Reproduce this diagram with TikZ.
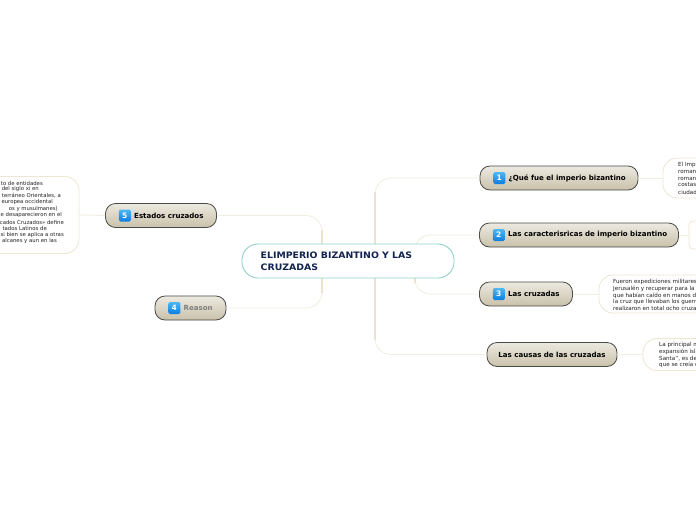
\documentclass[tikz,border=0pt]{standalone}
\usepackage{fontspec}
\setmainfont{DejaVu Sans}
\usetikzlibrary{positioning}
\definecolor{linktan}{HTML}{E9E3D0}
\definecolor{linkpale}{HTML}{F1EDE0}
\definecolor{topicfill}{HTML}{C9C1A9}
\definecolor{topicedge}{HTML}{4A4A48}
\definecolor{rootedge}{HTML}{8FD3CB}
\definecolor{navy}{HTML}{12234F}
\definecolor{notetan}{HTML}{EDE6D0}
\definecolor{icontop}{HTML}{4DB8F5}
\definecolor{iconbot}{HTML}{0A7DE0}
\definecolor{notetext}{HTML}{222222}
\tikzset{topic/.style={draw=topicedge,line width=0.8pt,rounded corners=10pt,top color=topicfill!35!white,bottom color=topicfill,minimum height=24pt,inner sep=0pt,font=\fontsize{7.05}{9}\selectfont\bfseries},
rootbox/.style={draw=rootedge,line width=0.9pt,fill=white,rounded corners=16pt,minimum width=212pt,minimum height=34pt,inner sep=0pt},
notebox/.style={draw=notetan,line width=0.8pt,fill=white,rounded corners=14pt},
icon/.style={top color=icontop,bottom color=iconbot,text=white,rounded corners=1.5pt,minimum size=12pt,inner sep=0pt,font=\fontsize{7.5}{8}\selectfont\bfseries},
lbl/.style={inner sep=0pt,font=\fontsize{7.05}{9}\selectfont\bfseries},
link/.style={draw=linkpale,line width=0.8pt,rounded corners=16pt},
trunk/.style={draw=linktan,line width=2pt},
notetxt/.style={font=\fontsize{5.6}{7}\selectfont,text=notetext,inner sep=0pt}}
\begin{document}
\begin{tikzpicture}[x=1pt,y=-1pt]
\useasboundingbox (0,0) rectangle (696,520);
\clip (0,0) rectangle (696,520);
\fill[white] (0,0) rectangle (696,520);
% topics
\node[topic,minimum width=158pt] (que) at (559,178) {};
\node[topic,minimum width=199pt] (car) at (579,235) {};
\node[topic,minimum width=93pt] (cru) at (526,294) {};
\node[topic,minimum width=130pt] (cau) at (552,354.5) {Las causas de las cruzadas};
\node[topic,minimum width=111pt] (est) at (161,215.5) {};
\node[topic,minimum width=71pt] (rea) at (190.5,308) {};
% notes
\node[notebox,minimum width=90pt,minimum height=40pt] (nque) at (708,178) {};
\node[notebox,rounded corners=4pt,minimum width=40pt,minimum height=28pt] (ncar) at (709,235) {};
\node[notebox,minimum width=120pt,minimum height=38pt] (ncru) at (659,294) {};
\node[notebox,minimum width=100pt,minimum height=32pt] (ncau) at (693,354.5) {};
\node[notebox,minimum width=100pt,minimum height=77pt] (nest) at (29,215) {};
\foreach \a/\b in {que/nque,car/ncar,cru/ncru,cau/ncau}
\draw[link] (\a.east) -- (\b.west);
\draw[link] (est.west) -- (nest.east);
% branches
\coordinate (ra) at (375,192);
\coordinate (rb) at (375,340);
\coordinate (ia) at (414.5,246);
\coordinate (ib) at (414.5,283);
\coordinate (la) at (322,230);
\coordinate (lb) at (322,293);
\draw[link] (que.west) -| (ra);
\draw[link] (cau.west) -| (rb);
\draw[link] (car.west) -| (ia);
\draw[link] (cru.west) -| (ib);
\draw[link] (est.east) -| (la);
\draw[link] (rea.east) -| (lb);
\foreach \a/\b in {ra/rb,ia/ib,la/lb}
\draw[trunk] (\a) -- (\b);
\node[rootbox] (root) at (348,261) {};
\node[anchor=west,align=left,font=\fontsize{8.9}{11.5}\selectfont\bfseries\addfontfeatures{FakeStretch=1.05},text=navy,inner sep=0pt] (roottxt) at (260.5,261.5) {ELIMPERIO BIZANTINO Y LAS\\CRUZADAS};
% icons and labels
\foreach \id/\num/\txt in {que/1/¿Qué fue el imperio bizantino,car/2/Las caracterisricas de imperio bizantino,cru/3/Las cruzadas,est/5/Estados cruzados}{
\node[icon,right=13.5pt of \id.west] (i\id) {\num};
\node[lbl,right=3pt of i\id] (t\id) {\txt};
}
\node[icon,right=13.5pt of rea.west] (irea) {4};
\node[lbl,right=3pt of irea,text=gray] (trea) {Reason};
% note texts
\foreach \i/\y/\txt in {1/165/El Imp,2/172/roman,3/178.5/roman,4/185/costas,5/192/ciudad}
\node[notetxt,anchor=west] (q\i) at (678,\y) {\txt};
\foreach \i/\y/\txt in {1/282/Fueron expediciones militares,2/288.5/Jerusalén y recuperar para la,3/295.5/que habían caído en manos de,4/301.5/la cruz que llevaban los guerr,5/308/realizaron en total ocho cruza}
\node[notetxt,anchor=west] (c\i) at (613,\y) {\txt};
\foreach \i/\y/\txt in {1/345/La principal m,2/351.5/expansión isla,3/358.5/{Santa”, es de},4/365/que se creía d}
\node[notetxt,anchor=west] (u\i) at (659,\y) {\txt};
\foreach \i/\y/\x/\txt in {1/183/43/to de entidades,2/189.5/39/s del siglo xi en,3/196/61/{terráneo Orientales, a},4/202.5/53/europea occidental,5/208.8/58/os y musulmanes),6/215.2/62/e desaparecieron en el,7/222/64/cados Cruzados» define,8/228.5/47/tados Latinos de,9/235/64/si bien se aplica a otras,10/241.5/57/alcanes y aun en las}
\node[notetxt,anchor=east,font=\fontsize{5.35}{7}\selectfont] (l\i) at (\x,\y) {\txt};
\end{tikzpicture}
\end{document}
